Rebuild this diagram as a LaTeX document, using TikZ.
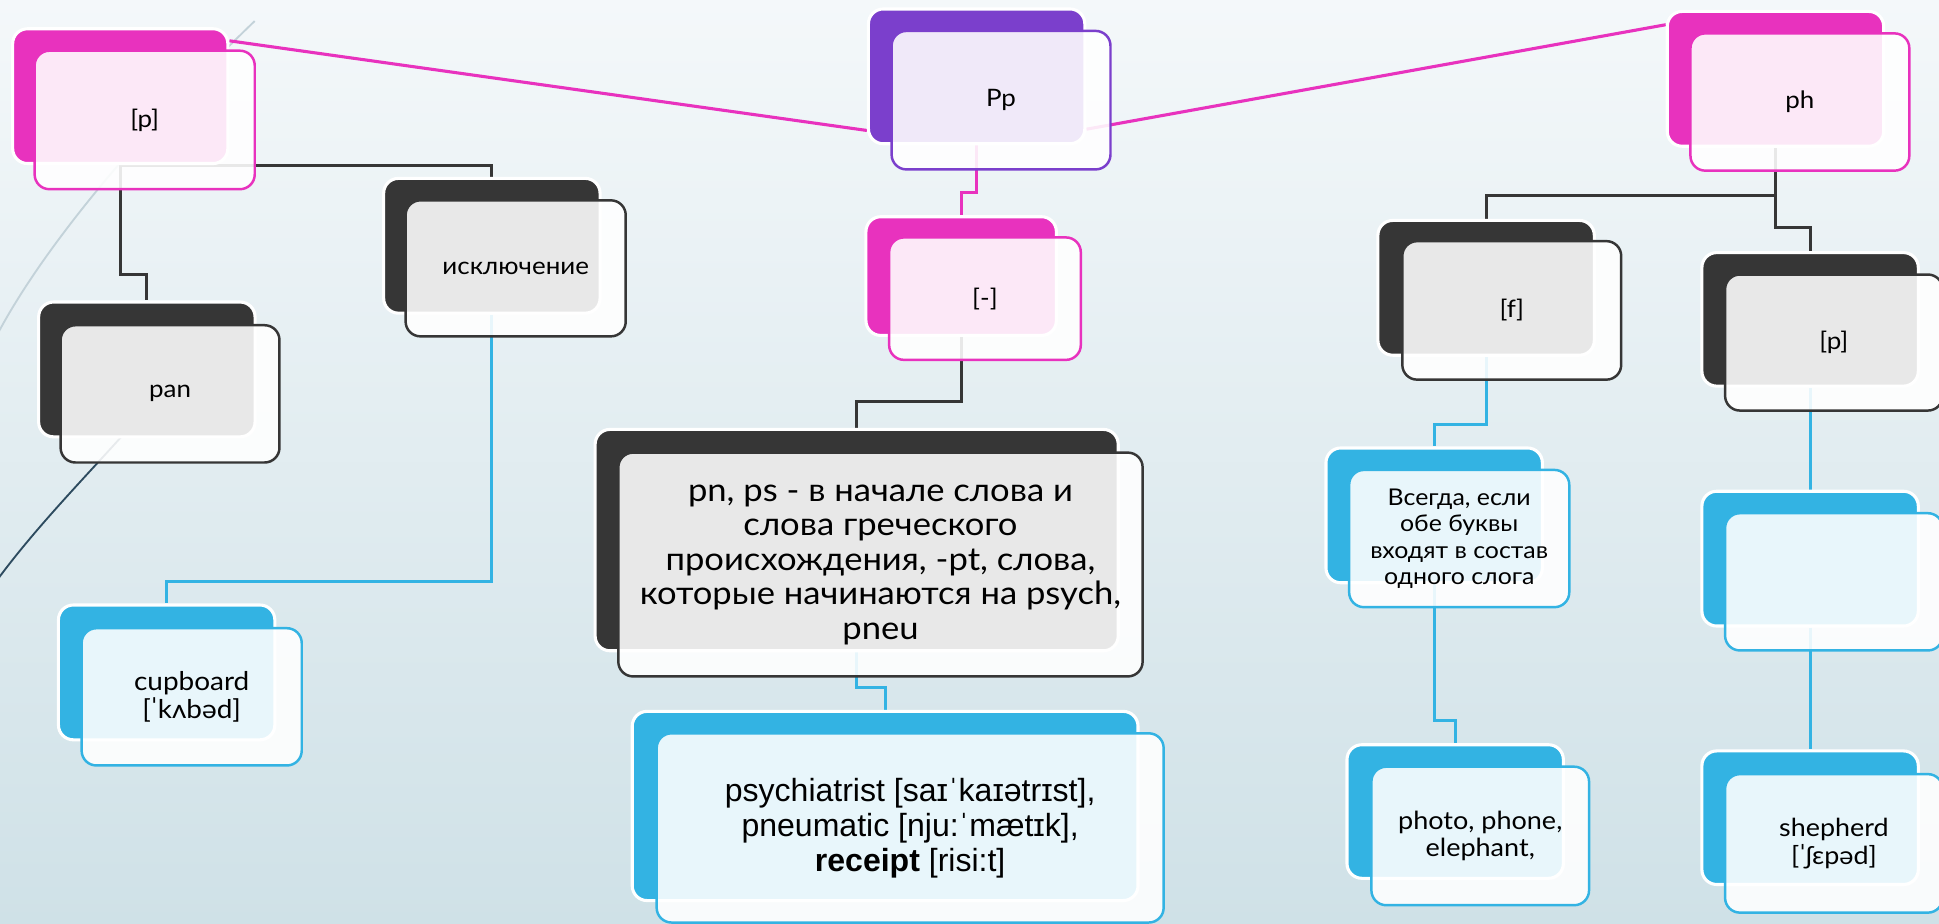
\documentclass[tikz,border=0pt]{standalone}
\usepackage{fontspec}
\setmainfont{Lato}[FakeStretch=1.08]
\newfontfamily\arialf{Liberation Sans}
\usetikzlibrary{calc}
\pgfdeclarelayer{bgfill}
\pgfdeclarelayer{wires}
\pgfsetlayers{bgfill,wires,main}
\definecolor{cmag}{HTML}{E832BE}
\definecolor{cpur}{HTML}{7B3FCC}
\definecolor{cdark}{HTML}{363636}
\definecolor{cblue}{HTML}{33B3E3}
\definecolor{bgtop}{HTML}{F4F8FA}
\definecolor{bgbot}{HTML}{CFE1E7}
\definecolor{decolight}{HTML}{C3D2D9}
\definecolor{decodark}{HTML}{2D4B5F}
\tikzset{
  backbox/.style={draw=white, line width=2.5bp, fill=#1, rounded corners=12bp, anchor=north west, inner sep=0pt},
  frontbox/.style={draw=#1, line width=2bp, fill=white, fill opacity=0.89, text opacity=1, rounded corners=12bp, anchor=north west, inner sep=0pt, align=center, font=\fontsize{19.5}{22}\selectfont},
  wire/.style={line width=2.5bp, draw=#1},
}
\begin{document}
\begin{tikzpicture}[x=1bp,y=-1bp]
\useasboundingbox (0,0) rectangle (1568,747);
\begin{pgfonlayer}{bgfill}
  \shade[top color=bgtop, bottom color=bgbot] (0,0) rectangle (1568,747);
  \draw[decolight, line width=1.5bp] (206,17) .. controls (130,90) and (40,190) .. (-3,272);
  \draw[decodark, line width=1.5bp] (110,340) .. controls (70,385) and (30,425) .. (-3,470);
\end{pgfonlayer}

% top-left [p]
\node[backbox=cmag, minimum width=174bp, minimum height=109bp] (pB) at (9,22) {};
\node[frontbox=cmag, minimum width=178bp, minimum height=112bp] (p) at (27,40) {[p]};
% Pp
\node[backbox=cpur, minimum width=175bp, minimum height=109bp] (PpB) at (701,6) {};
\node[frontbox=cpur, minimum width=177bp, minimum height=112bp] (Pp) at (720,24) {Pp};
% ph
\node[backbox=cmag, minimum width=175bp, minimum height=109bp] (phB) at (1347,8) {};
\node[frontbox=cmag, minimum width=177bp, minimum height=111bp] (ph) at (1366,26) {ph};
% исключение
\node[backbox=cdark, minimum width=175bp, minimum height=109bp] (iskB) at (309,143) {};
\node[frontbox=cdark, minimum width=178bp, minimum height=110bp] (isk) at (327,161) {исключение};
% pan
\node[backbox=cdark, minimum width=175bp, minimum height=109bp] (panB) at (30,243) {};
\node[frontbox=cdark, minimum width=177bp, minimum height=111bp] (pan) at (48,262) {pan};
% [-]
\node[backbox=cmag, minimum width=154bp, minimum height=96bp] (dashB) at (699,174) {};
\node[frontbox=cmag, minimum width=155bp, minimum height=99bp] (dash) at (718,191) {[-]};
% big rule box
\node[backbox=cdark, minimum width=423bp, minimum height=179bp] (bigB) at (480,346) {};
\node[frontbox=cdark, minimum width=424bp, minimum height=181bp, font=\fontsize{26}{28}\selectfont] (big) at (499,365)
  {pn, ps - в начале слова и\\ слова греческого\\ происхождения, -pt, слова,\\ которые начинаются на psych,\\ pneu};
% psychiatrist
\node[backbox=cblue, minimum width=409bp, minimum height=153bp] (psyB) at (510,574) {};
\node[frontbox=cblue, minimum width=410bp, minimum height=153bp, font=\arialf\fontsize{26}{28.5}\selectfont] (psy) at (530,592)
  {psychiatrist [saɪˈkaɪətrɪst],\\ pneumatic [nju:ˈmætɪk],\\ \textbf{receipt} [risi:t]};
% cupboard
\node[backbox=cblue, minimum width=175bp, minimum height=109bp] (cupB) at (46,488) {};
\node[frontbox=cblue, minimum width=178bp, minimum height=111bp, font=\fontsize{21}{23}\selectfont] (cup) at (65,507) {cupboard\\ {[ˈkʌbəd]}};
% [f]
\node[backbox=cdark, minimum width=175bp, minimum height=109bp] (fB) at (1113,177) {};
\node[frontbox=cdark, minimum width=177bp, minimum height=112bp] (f) at (1133,194) {[f]};
% [p] right
\node[backbox=cdark, minimum width=175bp, minimum height=108bp] (prB) at (1375,203) {};
\node[frontbox=cdark, minimum width=176bp, minimum height=110bp] (pr) at (1394,221) {[p]};
% Всегда
\node[backbox=cblue, minimum width=175bp, minimum height=109bp] (vsB) at (1071,361) {};
\node[frontbox=cblue, minimum width=178bp, minimum height=111bp, font=\fontsize{18.7}{21.5}\selectfont] (vs) at (1090,379)
  {Всегда, если\\ обе буквы\\ входят в состав\\ одного слога};
% empty
\node[backbox=cblue, minimum width=175bp, minimum height=109bp] (emB) at (1375,396) {};
\node[frontbox=cblue, minimum width=176bp, minimum height=111bp] (em) at (1394,414) {};
% photo
\node[backbox=cblue, minimum width=175bp, minimum height=108bp] (phoB) at (1088,601) {};
\node[frontbox=cblue, minimum width=176bp, minimum height=112bp, font=\fontsize{20.3}{22}\selectfont] (pho) at (1108,619) {photo, phone,\\ elephant,};
% shepherd
\node[backbox=cblue, minimum width=175bp, minimum height=108bp] (shB) at (1375,606) {};
\node[frontbox=cblue, minimum width=176bp, minimum height=112bp, font=\fontsize{20.2}{23}\selectfont] (sh) at (1394,625) {shepherd\\ {[ˈʃɛpəd]}};

\begin{pgfonlayer}{wires}
  \draw[wire=cmag] ([yshift=-11bp]pB.north east) -- ([yshift=12bp]PpB.south west);
  \draw[wire=cmag] ([yshift=13bp]PpB.south east) -- ([yshift=-12bp]phB.north west);
  \draw[wire=cdark] (pB.south) -- (pB.south |- 0,222) -| (panB.north);
  \draw[wire=cdark] (pB.south) -| (iskB.north);
  \draw[wire=cblue] (iskB.south) -- (iskB.south |- 0,470) -| (cupB.north);
  \draw[wire=cmag] (PpB.south) -- (PpB.south |- 0,156) -| (dashB.north);
  \draw[wire=cdark] (dashB.south) -- (dashB.south |- 0,325) -| (bigB.north);
  \draw[wire=cblue] (bigB.south) -- (bigB.south |- 0,556) -| (psyB.north);
  \draw[wire=cdark] (phB.south) -- (phB.south |- 0,158) -| (fB.north);
  \draw[wire=cdark] (phB.south) -- (phB.south |- 0,184) -| (prB.north);
  \draw[wire=cblue] (fB.south) -- (fB.south |- 0,343) -| (vsB.north);
  \draw[wire=cblue] (vsB.south) -- (vsB.south |- 0,583) -| (phoB.north);
  \draw[wire=cblue] (prB.south) -- (emB.north);
  \draw[wire=cblue] (emB.south) -- (shB.north);
\end{pgfonlayer}
\end{tikzpicture}
\end{document}
